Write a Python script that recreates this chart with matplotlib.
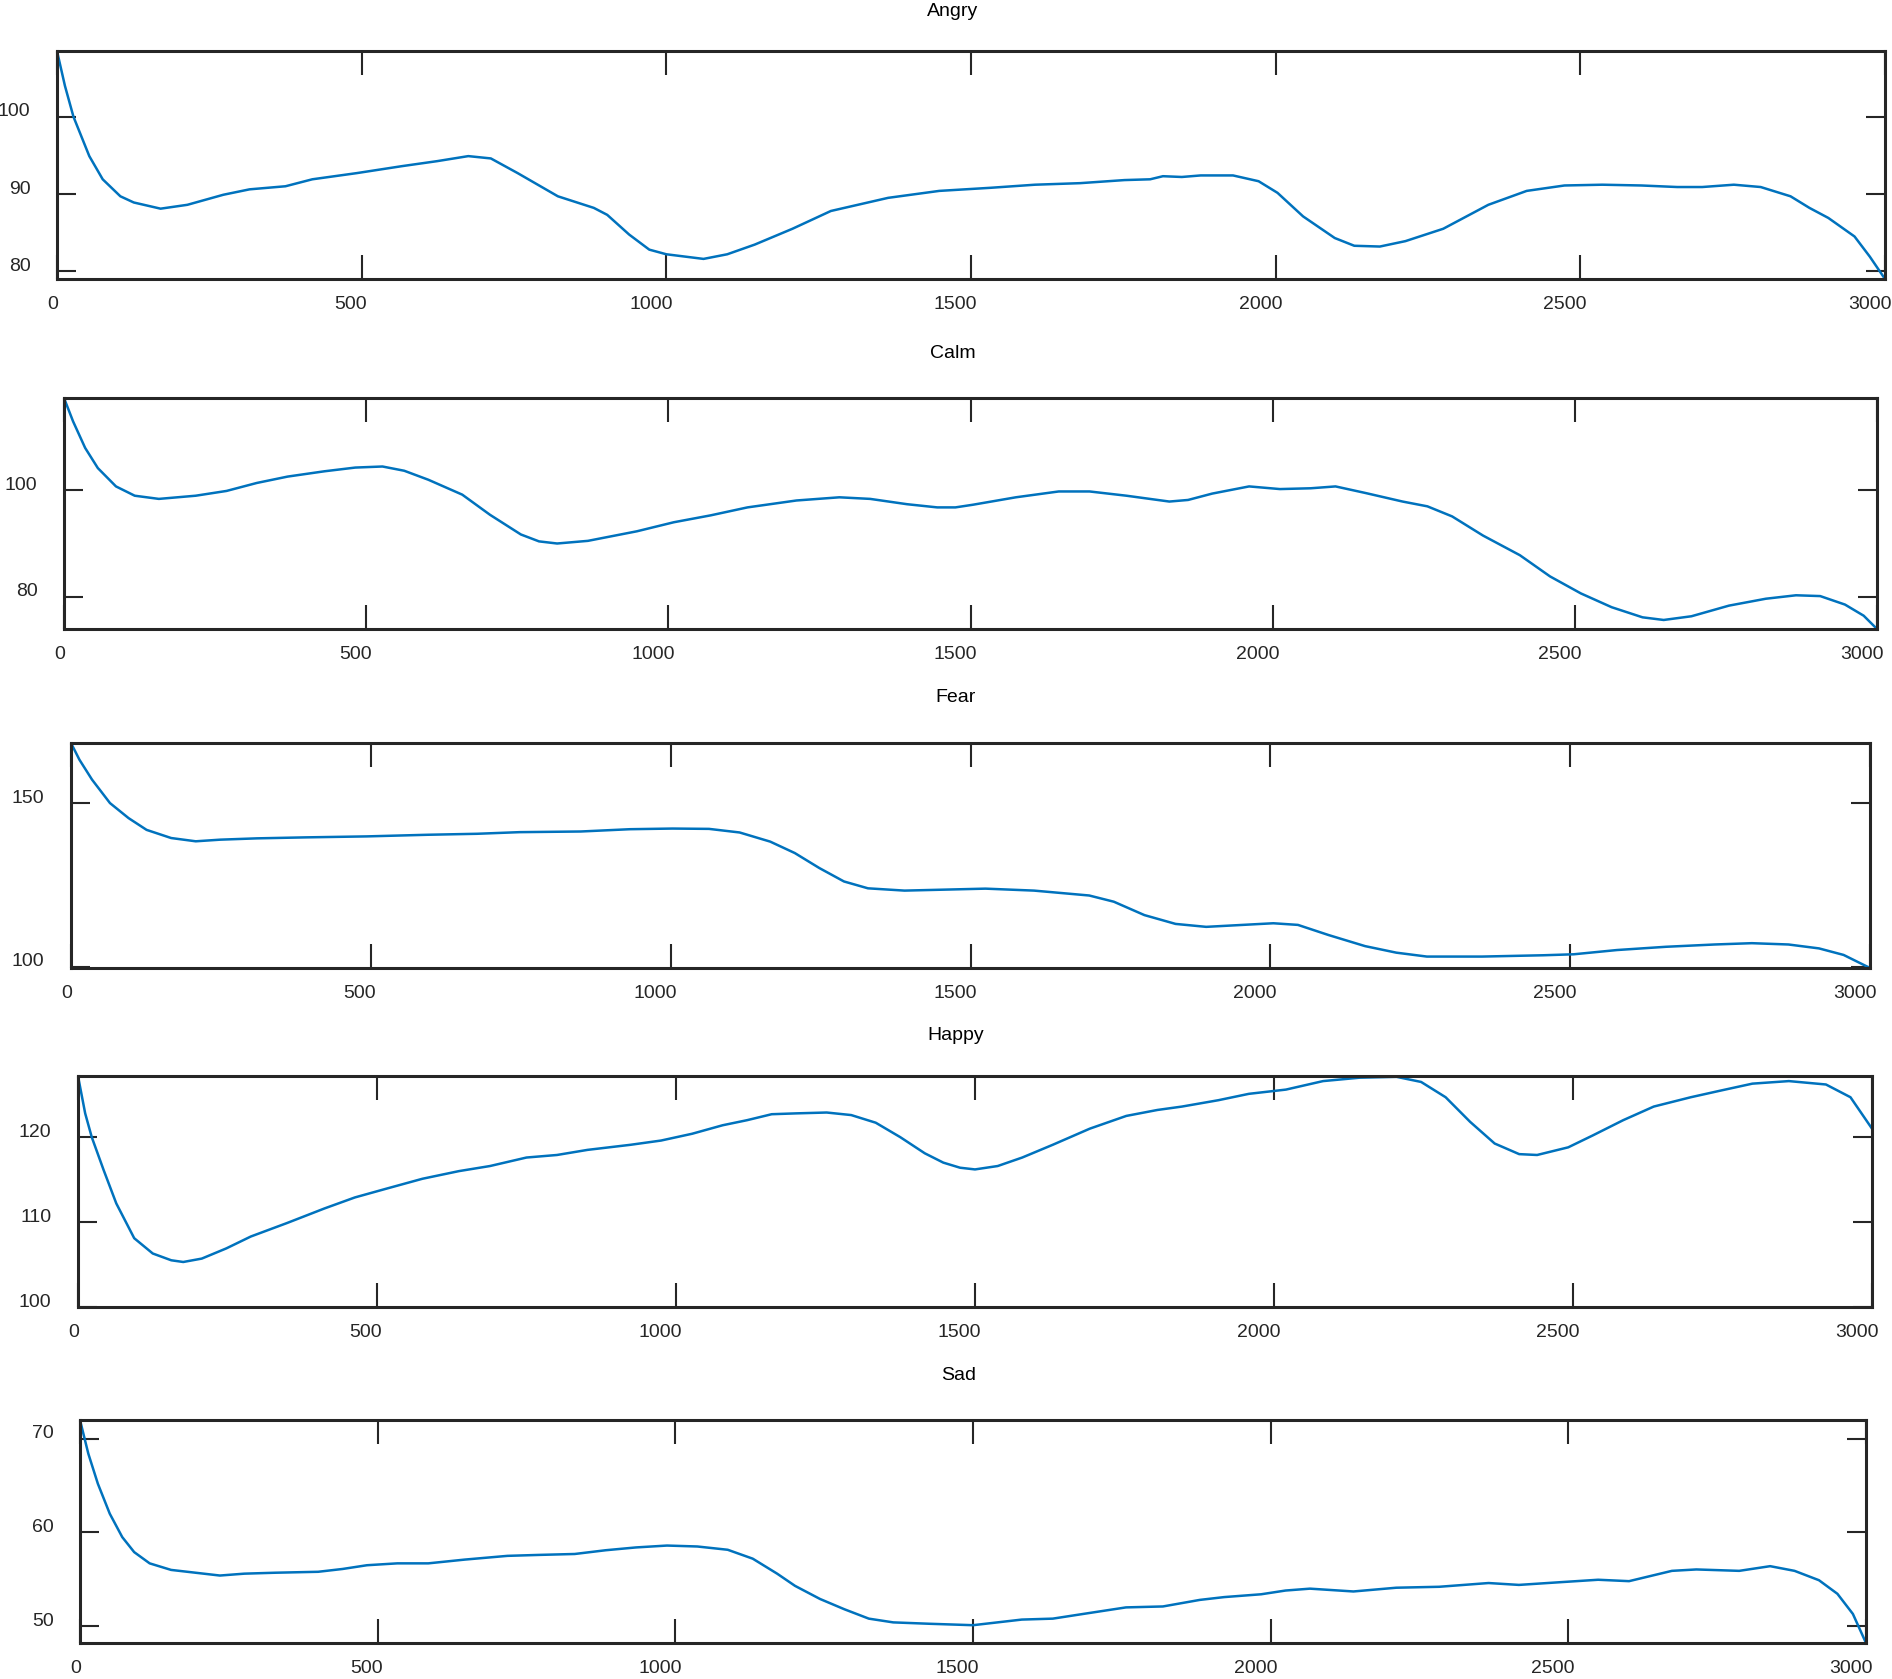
import matplotlib
matplotlib.use('Agg')
import matplotlib.pyplot as plt
import matplotlib.transforms as mtransforms
import numpy as np

plt.rcParams['font.family'] = ['Liberation Sans', 'DejaVu Sans']

# values (x = sample index, y = pitch)
angry_x = [0, 13, 27, 53, 75, 104, 126, 170, 214, 273, 316, 375, 419, 492, 566, 624, 675, 712, 756, 822,
           881, 903, 939, 972, 1000, 1061, 1100, 1145, 1207, 1270, 1364, 1448, 1532, 1605, 1679, 1752, 1794,
           1815, 1846, 1877, 1930, 1972, 2003, 2045, 2097, 2129, 2171, 2213, 2275, 2349, 2412, 2474, 2536,
           2600, 2659, 2700, 2752, 2796, 2845, 2876, 2907, 2950, 2975, 3000]
angry_y = [108.5, 104.0, 100.0, 94.9, 91.9, 89.7, 88.9, 88.1, 88.6, 89.9, 90.6, 91.0, 91.9, 92.7, 93.6, 94.25,
           94.9, 94.6, 92.7, 89.7, 88.2, 87.3, 84.75, 82.8, 82.2, 81.6, 82.2, 83.45, 85.5, 87.8, 89.5, 90.4,
           90.8, 91.2, 91.4, 91.8, 91.9, 92.3, 92.2, 92.4, 92.4, 91.65, 90.15, 87.1, 84.3, 83.3, 83.2, 83.9,
           85.5, 88.6, 90.4, 91.1, 91.2, 91.1, 90.9, 90.9, 91.2, 90.9, 89.7, 88.2, 86.9, 84.5, 81.9, 79.0]

calm_x = [0, 15, 35, 56, 86, 117, 157, 218, 269, 319, 370, 431, 482, 527, 563, 603, 659, 705, 756, 786, 816,
          867, 948, 1009, 1070, 1131, 1212, 1283, 1334, 1395, 1445, 1475, 1504, 1575, 1646, 1697, 1758, 1829,
          1860, 1900, 1961, 2012, 2063, 2104, 2154, 2215, 2256, 2297, 2348, 2409, 2459, 2510, 2561, 2612,
          2647, 2693, 2755, 2816, 2866, 2906, 2947, 2978, 3000]
calm_y = [117.4, 113.0, 108.0, 104.2, 100.75, 99.0, 98.4, 99.0, 99.9, 101.4, 102.6, 103.6, 104.3, 104.5,
          103.7, 102.0, 99.2, 95.4, 91.7, 90.4, 90.0, 90.5, 92.3, 94.0, 95.3, 96.8, 98.1, 98.7, 98.4, 97.4,
          96.8, 96.8, 97.3, 98.7, 99.8, 99.8, 99.0, 97.9, 98.2, 99.4, 100.75, 100.25, 100.4, 100.75, 99.5,
          97.9, 97.0, 95.1, 91.5, 87.8, 83.8, 80.6, 78.0, 76.1, 75.6, 76.3, 78.3, 79.6, 80.25, 80.1, 78.5,
          76.4, 73.9]

fear_x = [0, 14, 35, 65, 96, 126, 167, 208, 249, 310, 391, 493, 595, 677, 748, 850, 932, 1003, 1064, 1115,
          1166, 1207, 1248, 1289, 1329, 1390, 1480, 1525, 1606, 1698, 1739, 1790, 1842, 1893, 1954, 2005,
          2046, 2097, 2158, 2210, 2261, 2353, 2455, 2506, 2578, 2660, 2741, 2803, 2864, 2915, 2956, 3000]
fear_y = [168.5, 163.4, 157.3, 150.1, 145.5, 141.9, 139.4, 138.4, 138.9, 139.3, 139.6, 139.9, 140.4, 140.7,
          141.2, 141.4, 142.1, 142.3, 142.2, 141.1, 138.3, 134.8, 130.2, 126.1, 124.0, 123.3, 123.7, 123.9,
          123.3, 121.8, 119.9, 115.8, 113.1, 112.2, 112.8, 113.3, 112.8, 109.7, 106.3, 104.3, 103.1, 103.1,
          103.5, 103.8, 105.1, 106.1, 106.8, 107.2, 106.8, 105.6, 103.6, 99.6]

happy_x = [0, 12, 23, 43, 64, 94, 125, 156, 176, 207, 248, 289, 350, 412, 463, 514, 576, 637, 689, 750, 801,
           852, 924, 975, 1027, 1078, 1119, 1160, 1201, 1252, 1293, 1334, 1375, 1416, 1447, 1475, 1500, 1538,
           1579, 1630, 1692, 1753, 1805, 1846, 1907, 1958, 2020, 2082, 2143, 2205, 2246, 2287, 2328, 2369,
           2410, 2440, 2492, 2533, 2584, 2635, 2697, 2748, 2800, 2861, 2923, 2964, 3000]
happy_y = [127.2, 122.8, 120.0, 116.1, 112.2, 108.1, 106.3, 105.5, 105.3, 105.7, 106.9, 108.3, 109.9, 111.6,
           112.9, 113.9, 115.1, 116.0, 116.6, 117.6, 117.9, 118.5, 119.1, 119.6, 120.4, 121.4, 122.0, 122.7,
           122.8, 122.9, 122.6, 121.7, 120.0, 118.1, 117.0, 116.4, 116.2, 116.6, 117.6, 119.1, 121.0, 122.5,
           123.2, 123.6, 124.35, 125.1, 125.6, 126.6, 127.0, 127.1, 126.5, 124.7, 121.8, 119.25, 118.0, 117.9,
           118.8, 120.2, 122.0, 123.6, 124.7, 125.5, 126.3, 126.6, 126.2, 124.7, 121.0]

sad_x = [0, 14, 30, 50, 71, 91, 117, 153, 194, 235, 276, 328, 400, 441, 482, 533, 585, 646, 718, 770, 831,
         883, 934, 986, 1037, 1088, 1130, 1171, 1201, 1243, 1284, 1325, 1366, 1428, 1500, 1582, 1634, 1685,
         1757, 1819, 1881, 1922, 1984, 2025, 2066, 2139, 2211, 2283, 2366, 2417, 2489, 2550, 2602, 2674, 2715,
         2787, 2839, 2880, 2921, 2952, 2978, 3000]
sad_y = [72.0, 68.4, 65.2, 62.0, 59.5, 57.9, 56.7, 56.0, 55.7, 55.4, 55.6, 55.7, 55.8, 56.1, 56.5, 56.7, 56.7,
         57.1, 57.5, 57.6, 57.7, 58.1, 58.4, 58.6, 58.5, 58.15, 57.2, 55.6, 54.3, 52.9, 51.8, 50.8, 50.4, 50.25,
         50.1, 50.7, 50.8, 51.3, 52.0, 52.1, 52.8, 53.1, 53.4, 53.8, 54.0, 53.7, 54.1, 54.2, 54.6, 54.4, 54.7,
         54.95, 54.8, 55.9, 56.05, 55.9, 56.4, 55.9, 54.9, 53.45, 51.3, 48.2]

titles = ['Angry', 'Calm', 'Fear', 'Happy', 'Sad']
series_x = [angry_x, calm_x, fear_x, happy_x, sad_x]
series_y = [angry_y, calm_y, fear_y, happy_y, sad_y]
y_ticks = [[80, 90, 100], [80, 100], [100, 150], [100, 110, 120], [50, 60, 70]]
x_ticks = [0, 500, 1000, 1500, 2000, 2500, 3000]

W, H = 1892, 1679
# axes boxes in pixels: left, right, top, bottom
boxes = [(57, 1885, 51, 279), (64, 1877, 398, 629), (71, 1870, 743, 968),
         (78, 1872, 1076, 1307), (80, 1866, 1420, 1643)]
title_pos = [(953, 12), (953, 353), (956, 697), (956, 1035), (959, 1375)]

dark = '#262626'
fig = plt.figure(figsize=(W / 100, H / 100), dpi=100)

for i in range(5):
    l, r, t, b = boxes[i]
    ax = fig.add_axes([l / W, 1 - b / H, (r - l) / W, (b - t) / H])
    x = np.array(series_x[i])
    y = np.array(series_y[i])
    ax.plot(x, y, color='#0072BD', lw=1.8, solid_joinstyle='round')
    ax.set_xlim(0, 3000)
    lo = 100 if titles[i] == 'Happy' else y.min()
    ax.set_ylim(lo, y.max())
    ax.set_xticks(x_ticks)
    ax.set_yticks(y_ticks[i])
    ax.tick_params(direction='in', top=True, right=True, colors=dark, labelsize=14, width=1.5)
    ax.tick_params(axis='x', length=17, pad=12)
    ax.tick_params(axis='y', length=14, pad=19)
    for s in ax.spines.values():
        s.set_linewidth(2.2)
        s.set_color(dark)
    # the labels sit a little off their ticks in the original
    for val, lab in zip(x_ticks, ax.get_xticklabels()):
        shift = -3 if val == 0 else (-8 if val == 500 else -11)
        dx = mtransforms.ScaledTranslation(shift / 72, 0, fig.dpi_scale_trans)
        lab.set_transform(lab.get_transform() + dx)
    dy = mtransforms.ScaledTranslation(0, 5 / 72, fig.dpi_scale_trans)
    for lab in ax.get_yticklabels():
        lab.set_transform(lab.get_transform() + dy)

    tx, ty = title_pos[i]
    fig.text(tx / W, 1 - ty / H, titles[i], ha='center', va='center', fontsize=14, color='black')

fig.savefig('out.png', dpi=100, facecolor='white')
